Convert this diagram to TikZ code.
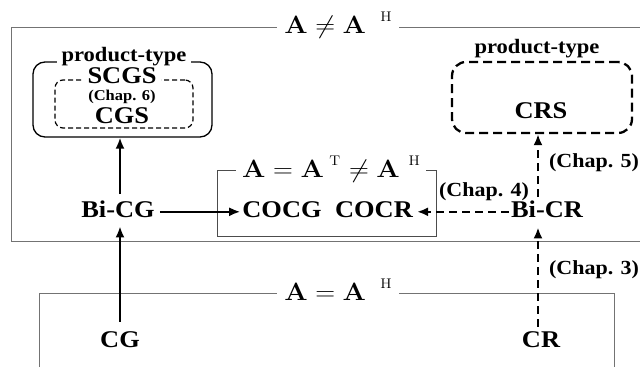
\RequirePackage{fix-cm}
\documentclass[tikz,border=0pt]{standalone}
\usepackage[no-math]{fontspec}
\usepackage{graphicx}
\usetikzlibrary{arrows.meta}
\newfontfamily\tnr[FakeStretch=1.1]{Liberation Serif}
\newcommand\mttl[1]{\scalebox{1.1}[1]{\fontsize{25}{25}\selectfont #1}}
\newcommand\supH[1]{\raisebox{12pt}{\fontsize{14}{14}\selectfont #1}}
\begin{document}
\begin{tikzpicture}[x=1pt,y=-1pt,
 lbl/.style={font=\tnr\bfseries\fontsize{24}{24}\selectfont, inner sep=0pt, anchor=base},
 chap/.style={font=\tnr\bfseries\fontsize{20}{20}\selectfont, inner sep=0pt, anchor=base},
 chapsm/.style={font=\tnr\bfseries\fontsize{15}{16}\selectfont, inner sep=0pt, anchor=base},
 ptype/.style={font=\tnr\bfseries\fontsize{20.5}{20.5}\selectfont, anchor=base, fill=white, inner xsep=5pt, inner ysep=1pt},
 ttl/.style={fill=white, inner xsep=7pt, inner ysep=2pt, anchor=base},
 frame/.style={draw=black!55, line width=0.9pt},
 frametwo/.style={draw=black!70, line width=0.9pt},
 arr/.style={line width=2pt, -{Latex[length=11pt,width=9pt]}},
 darr/.style={line width=2.5pt, dash pattern=on 8pt off 5pt, -{Latex[length=11pt,width=9pt]}},
]
\useasboundingbox[fill=white] (0,0) rectangle (640,367);

% outer frames
\draw[frame] (640,27) -- (11,27) -- (11,241) -- (640,241);
\node[ttl] (t1) at (338,33) {\mttl{$\mathbf{A}\neq\mathbf{A}$\hspace{13pt}\supH{H}}};
\draw[frame] (39,367) -- (39,293) -- (614,293) -- (614,367);
\node[ttl] (t2) at (338,300) {\mttl{$\mathbf{A}=\mathbf{A}$\hspace{13pt}\supH{H}}};

% inner box
\draw[frametwo] (217,170) rectangle (436,236);
\node[ttl, inner xsep=6pt] (t3) at (331,177) {\mttl{$\mathbf{A}=\mathbf{A}$\hspace{5pt}\supH{T}\hspace{1pt}$\;\neq\mathbf{A}$\hspace{8pt}\supH{H}}};

% left product-type box
\node[draw, rounded corners=12pt, line width=1.3pt, minimum width=179pt, minimum height=75pt, inner sep=0pt] (pl) at (122.5,99.5) {};
\node[ptype] (plt) at (124,61) {product-type};
\node[draw, dash pattern=on 5pt off 3pt, rounded corners=8pt, line width=1.2pt, minimum width=138pt, minimum height=48pt, inner sep=0pt] (pli) at (124,104) {};
\node[lbl, fill=white, inner xsep=5pt] (scgs) at (122,83.5) {SCGS};
\node[chapsm] (c6) at (122,100.5) {(Chap. 6)};
\node[lbl] (cgs) at (122,123) {CGS};

% right product-type box
\node[draw, dash pattern=on 9pt off 5pt, rounded corners=14pt, line width=2.3pt, minimum width=180pt, minimum height=71pt, inner sep=0pt] (pr) at (542,97.5) {};
\node[ptype] (prt) at (537,53) {product-type};
\node[lbl] (crs) at (541,118) {CRS};

% main nodes
\node[lbl] (bicg) at (118,217) {Bi-CG};
\node[lbl] (cocg) at (282,217) {COCG};
\node[lbl] (cocr) at (374,217) {COCR};
\node[lbl] (bicr) at (547,217) {Bi-CR};
\node[lbl] (cg) at (120,347) {CG};
\node[lbl] (cr) at (541,347) {CR};
\node[chap] (c4) at (484,196) {(Chap. 4)};
\node[chap] (c5) at (594,167) {(Chap. 5)};
\node[chap] (c3) at (594,274) {(Chap. 3)};

% connectors
\draw[arr, shorten <=6pt] ([xshift=2pt]bicg.north) -- ([xshift=2pt]bicg.north |- pl.south);
\draw[arr, shorten <=9pt, shorten >=9pt] (cg.north) -- (cg.north |- bicg.south);
\draw[arr, shorten <=5pt, shorten >=2pt] ([yshift=-3pt]bicg.east) -- ([yshift=-3pt]bicg.east -| cocg.west);
\draw[darr, shorten <=2pt, shorten >=4pt] ([yshift=-3pt]bicr.west) -- ([yshift=-3pt]bicr.west -| cocr.east);
\draw[darr, shorten <=3pt] ([xshift=-9pt]bicr.north) -- ([xshift=-9pt]bicr.north |- pr.south);
\draw[darr, shorten <=4pt, shorten >=10pt] ([xshift=-3pt]cr.north) -- ([xshift=-3pt]cr.north |- bicr.south);
\end{tikzpicture}
\end{document}
